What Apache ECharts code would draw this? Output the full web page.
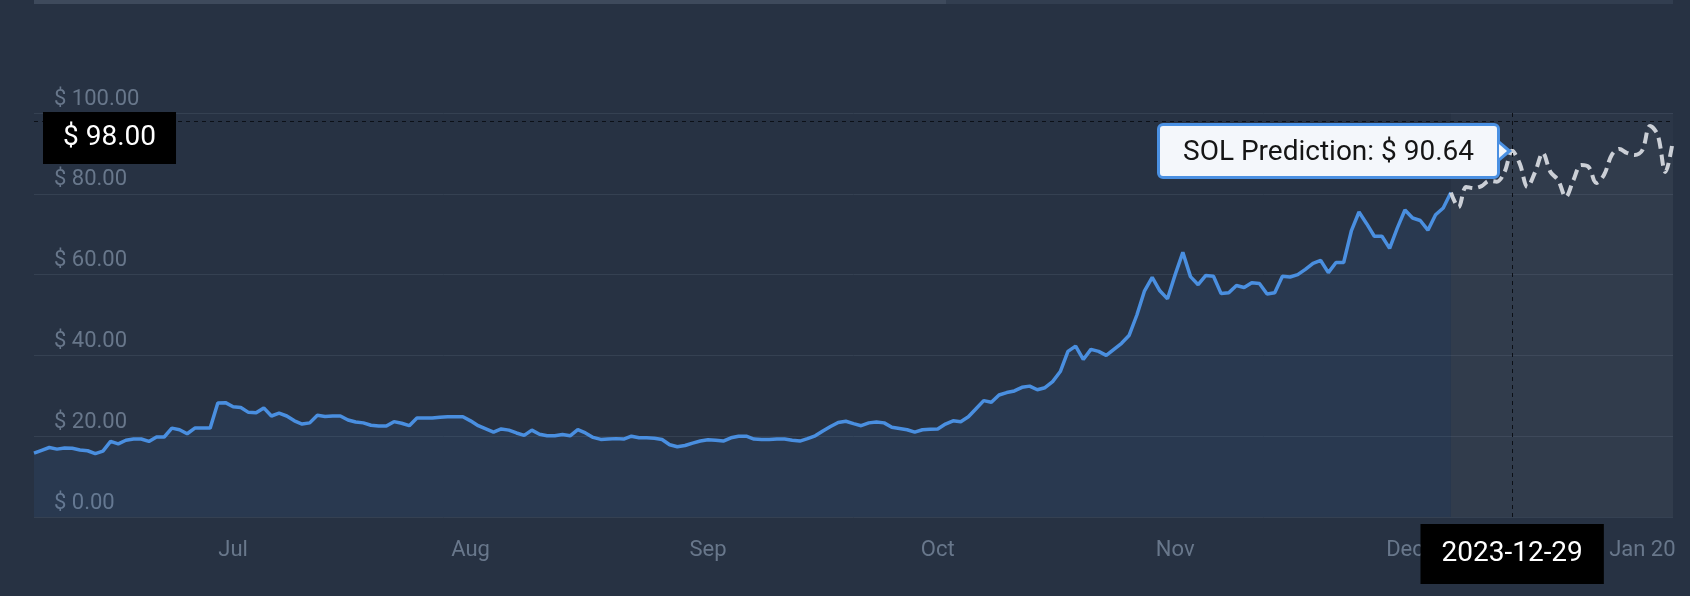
<!DOCTYPE html>
<html>
<head>
<meta charset="utf-8">
<title>SOL price prediction</title>
<script src="https://cdn.jsdelivr.net/npm/echarts@6/dist/echarts.min.js"></script>
<style>
  html, body { margin: 0; padding: 0; background: #273243; }
  #chart { width: 1690px; height: 596px; }
  /* little arrow on the right side of the tooltip */
  .sol-tip::before, .sol-tip::after {
    content: ''; position: absolute; top: 50%; width: 0; height: 0;
    border-style: solid; border-color: transparent;
  }
  .sol-tip::before { right: -15px; margin-top: -10px; border-width: 10px 0 10px 12px; border-left-color: #4a90e2; }
  .sol-tip::after { right: -10px; margin-top: -7px; border-width: 7px 0 7px 8px; border-left-color: #f4f7fb; }
</style>
</head>
<body>
<div id="chart"></div>
<script>
// daily categories, 2023-06-05 .. 2024-01-05
const startDate = '2023-06-05';
const dayCount = 215;
const dates = [];
for (let i = 0; i < dayCount; i++) {
  const d = new Date(startDate + 'T00:00:00Z');
  d.setUTCDate(d.getUTCDate() + i);
  dates.push(d.toISOString().slice(0, 10));
}

const monthTicks = ['2023-07-01', '2023-08-01', '2023-09-01', '2023-10-01', '2023-11-01', '2023-12-01', '2024-01-01'];
const monthLabels = ['Jul', 'Aug', 'Sep', 'Oct', 'Nov', 'Dec', 'Jan 20'];

const priceTicks = [0, 20, 40, 60, 80, 100];

// SOL price history (from index 0)
const priceHistory = [
  15.8, 16.5, 17.2, 16.8, 17.1, 17.0, 16.6, 16.4, 15.7, 16.3,
  18.7, 18.1, 19.0, 19.3, 19.3, 18.7, 19.8, 19.8, 22.0, 21.6,
  20.6, 22.0, 22.0, 22.0, 28.2, 28.3, 27.3, 27.1, 25.9, 25.8,
  27.0, 25.0, 25.7, 25.0, 23.8, 23.0, 23.3, 25.2, 24.9, 25.0,
  25.0, 24.0, 23.5, 23.3, 22.7, 22.5, 22.5, 23.6, 23.2, 22.6,
  24.5, 24.5, 24.5, 24.7, 24.8, 24.8, 24.8, 23.8, 22.6, 21.8,
  21.0, 21.8, 21.5, 20.8, 20.2, 21.5, 20.5, 20.1, 20.1, 20.4,
  20.1, 21.6, 20.8, 19.7, 19.2, 19.3, 19.4, 19.3, 20.0, 19.6,
  19.6, 19.5, 19.2, 17.9, 17.4, 17.7, 18.3, 18.8, 19.1, 19.0,
  18.8, 19.6, 20.0, 20.0, 19.3, 19.2, 19.2, 19.3, 19.3, 19.0,
  18.8, 19.4, 20.1, 21.3, 22.4, 23.4, 23.7, 23.1, 22.6, 23.3,
  23.5, 23.3, 22.2, 21.9, 21.6, 21.0, 21.6, 21.7, 21.8, 23.0,
  23.8, 23.6, 24.8, 26.8, 28.8, 28.4, 30.2, 30.8, 31.2, 32.1,
  32.4, 31.5, 32.0, 33.5, 36.0, 41.0, 42.3, 39.0, 41.5, 41.0,
  40.0, 41.5, 43.0, 45.0, 50.0, 56.0, 59.3, 56.0, 54.0, 60.0,
  65.5, 59.5, 57.5, 59.8, 59.6, 55.3, 55.5, 57.3, 56.8, 58.0,
  57.8, 55.2, 55.5, 59.6, 59.4, 60.0, 61.3, 62.8, 63.5, 60.5,
  63.0, 63.0, 70.8, 75.5, 72.6, 69.5, 69.5, 66.5, 71.5, 76.0,
  74.0, 73.4, 71.0, 74.8, 76.5, 80.3
];

// prediction starts at the last history point
const predictionStart = priceHistory.length - 1;
const pricePrediction = [
  80.3, 76.7, 81.7, 81.4, 81.9, 83.2, 83.0, 85.4, 90.64, 87.4,
  81.7, 85.4, 90.1, 85.4, 83.4, 79.2, 83.4, 87.1, 86.6, 82.7,
  84.7, 89.6, 91.1, 90.1, 89.6, 90.8, 96.8, 94.6, 85.4, 93.3
];

// hovered state shown in the picture
const hoverIndex = 193;
const hoverPrice = 98;
const hoverDate = '2023-12-29';

const labelColor = '#68778b';
const gridColor = '#354152';
const fmtPrice = (v) => '$ ' + Number(v).toFixed(2);

const predictionData = dates.map((d, i) =>
  i < predictionStart ? null : pricePrediction[i - predictionStart]);

const chartInstance = echarts.init(document.getElementById('chart'));

const option = {
  backgroundColor: '#273243',
  animation: false,
  textStyle: { fontFamily: 'Roboto' },
  grid: { left: 34, right: 17, top: 113, bottom: 79 },
  // remains of the navigator bar at the very top
  graphic: [
    { type: 'rect', left: 34, top: 0, shape: { width: 912, height: 4 }, style: { fill: '#3e4a5c' }, silent: true },
    { type: 'rect', left: 946, top: 0, shape: { width: 727, height: 4 }, style: { fill: '#323e50' }, silent: true },
  ],
  xAxis: {
    type: 'category',
    data: dates,
    boundaryGap: false,
    axisLine: { show: false },
    axisTick: { show: false },
    splitLine: { show: false },
    axisLabel: {
      interval: (index, value) => monthTicks.indexOf(value) >= 0,
      formatter: (value) => monthLabels[monthTicks.indexOf(value)],
      color: labelColor,
      fontSize: 22,
      margin: 22,
    },
  },
  yAxis: {
    type: 'value',
    min: priceTicks[0],
    max: priceTicks[priceTicks.length - 1],
    interval: 20,
    axisLine: { show: false },
    axisTick: { show: false },
    splitLine: { lineStyle: { color: gridColor, width: 1 } },
    axisLabel: {
      inside: true,
      margin: 20,
      verticalAlign: 'bottom',
      padding: [0, 0, 3, 0],
      color: labelColor,
      fontSize: 22,
      formatter: fmtPrice,
    },
  },
  tooltip: {
    trigger: 'axis',
    triggerOn: 'none',
    alwaysShowContent: true,
    transitionDuration: 0,
    axisPointer: { type: 'none' },
    className: 'sol-tip',
    backgroundColor: '#f4f7fb',
    borderColor: '#4a90e2',
    borderWidth: 3,
    padding: [7, 23],
    extraCssText: 'box-shadow:none;border-radius:6px;',
    textStyle: { color: '#151515', fontSize: 28, lineHeight: 36, fontFamily: 'Roboto' },
    formatter: (params) => {
      const p = params.find((q) => q.seriesName === 'SOL Prediction' && q.value != null);
      return p ? p.seriesName + ': ' + fmtPrice(p.value) : '';
    },
    position: (point, params, dom, rect, size) => [
      point[0] - size.contentSize[0] - 12,
      point[1] - size.contentSize[1] / 2,
    ],
  },
  series: [
    {
      name: 'SOL Price',
      type: 'line',
      data: priceHistory,
      symbol: 'none',
      lineStyle: { color: '#4a8fe0', width: 3.5 },
      areaStyle: { color: 'rgba(74,144,226,0.12)' },
      z: 3,
    },
    {
      name: 'SOL Prediction',
      type: 'line',
      data: predictionData,
      symbol: 'none',
      smooth: 0.35,
      lineStyle: { color: '#b9bdc3', width: 4, type: [11, 6] },
      areaStyle: { color: 'rgba(200,205,215,0.05)' },
      z: 3,
      markArea: {
        silent: true,
        itemStyle: { color: 'rgba(200,205,215,0.03)' },
        data: [[{ xAxis: dates[predictionStart] }, { xAxis: dates[dates.length - 1] }]],
      },
      markLine: {
        silent: true,
        symbol: 'none',
        animation: false,
        lineStyle: { color: '#0c1017', type: [4, 4], width: 1 },
        label: {
          color: '#fff',
          backgroundColor: '#000',
          fontSize: 28,
          fontFamily: 'Roboto',
        },
        data: [
          {
            xAxis: dates[hoverIndex],
            label: { position: 'start', distance: 7, padding: [16, 21], formatter: hoverDate },
          },
          {
            yAxis: hoverPrice,
            label: { position: 'insideStartBottom', distance: [9, -9], padding: [12, 20], formatter: fmtPrice(hoverPrice) },
          },
        ],
      },
    },
  ],
};

chartInstance.setOption(option);
chartInstance.dispatchAction({ type: 'showTip', seriesIndex: 1, dataIndex: hoverIndex });
</script>
</body>
</html>
